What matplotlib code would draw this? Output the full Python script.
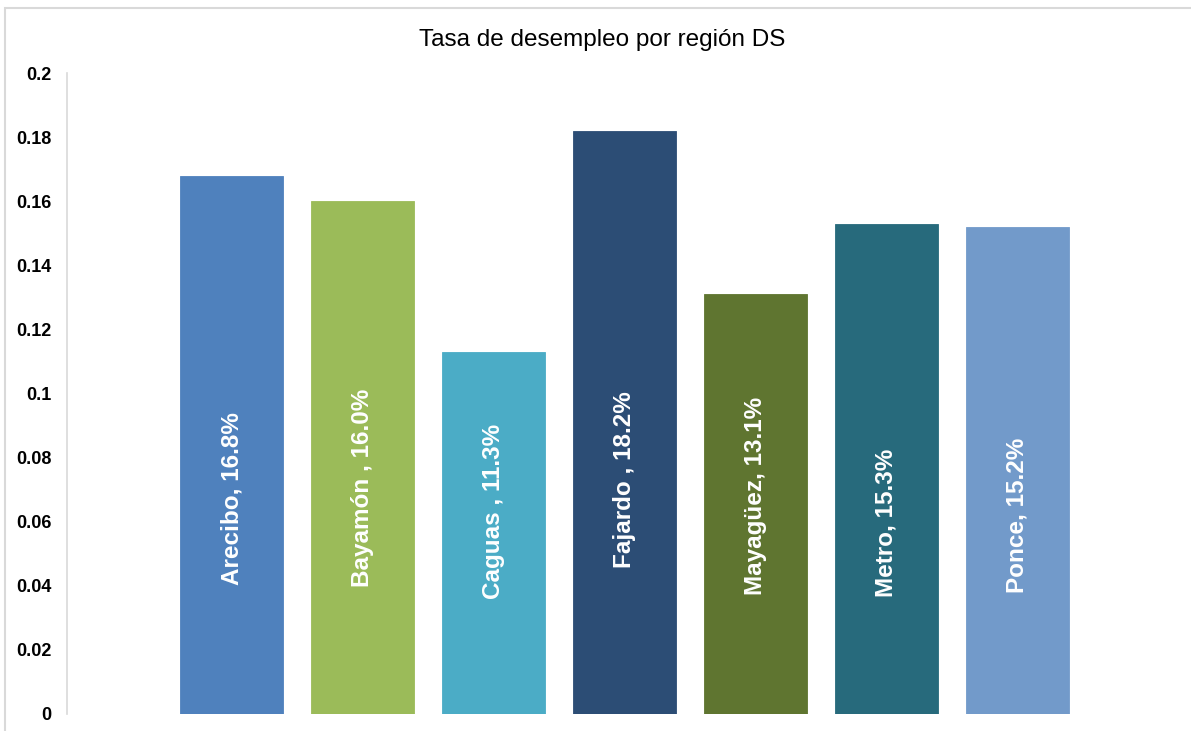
import matplotlib
matplotlib.use("Agg")
import matplotlib.pyplot as plt
from matplotlib.patches import Rectangle

# --- data ---
regions = ["Arecibo", "Bayamón ", "Caguas ", "Fajardo ", "Mayagüez", "Metro", "Ponce"]
rates = [0.168, 0.160, 0.113, 0.182, 0.131, 0.153, 0.152]
colors = ["#4F81BD", "#9BBB59", "#4BACC6", "#2C4D75", "#5F7530", "#276A7C", "#729ACA"]
yticks = [0, 0.02, 0.04, 0.06, 0.08, 0.1, 0.12, 0.14, 0.16, 0.18, 0.2]
ytick_labels = ["0", "0.02", "0.04", "0.06", "0.08", "0.1", "0.12", "0.14", "0.16", "0.18", "0.2"]
# where each in-bar label is centred (the original labels were nudged by hand)
label_centers = [0.0672, 0.0705, 0.0633, 0.0730, 0.0680, 0.0596, 0.0621]

plt.rcParams["font.family"] = ["Liberation Sans", "DejaVu Sans"]

W, H = 1191, 731
fig = plt.figure(figsize=(W / 100, H / 100), dpi=100)

# light outer chart border (only top/left visible in the crop)
fig.patches.append(Rectangle((5 / W, -0.05), 1.1, 1 - 8 / H + 0.05,
                             transform=fig.transFigure, fill=False,
                             edgecolor="#D9D9D9", linewidth=1.5))

ax = fig.add_axes([67 / W, 1 - 714 / H, (1185 - 67) / W, (714 - 73) / H])

x = list(range(len(regions)))
ax.bar(x, rates, width=0.787, color=colors, edgecolor=colors, linewidth=0.6)

for xi, name, val, yc in zip(x, regions, rates, label_centers):
    ax.text(xi, yc, f"{name}, {val * 100:.1f}%", rotation=90, ha="center", va="center",
            color="white", fontsize=17.5, fontweight="bold")

ax.set_xlim(-1.256, 7.28)
ax.set_ylim(0, 0.2)
ax.set_yticks(yticks)
ax.set_yticklabels(ytick_labels, fontsize=13, fontweight="bold")
ax.tick_params(axis="y", length=0, pad=11)
ax.set_xticks([])

for side in ["top", "right", "bottom"]:
    ax.spines[side].set_visible(False)
ax.spines["left"].set_color("#D9D9D9")
ax.spines["left"].set_linewidth(1.2)

fig.text(602 / W, 1 - 40 / H, "Tasa de desempleo por región DS", ha="center", va="center",
         fontsize=17.5, color="black")

fig.savefig("out.png", dpi=100)
